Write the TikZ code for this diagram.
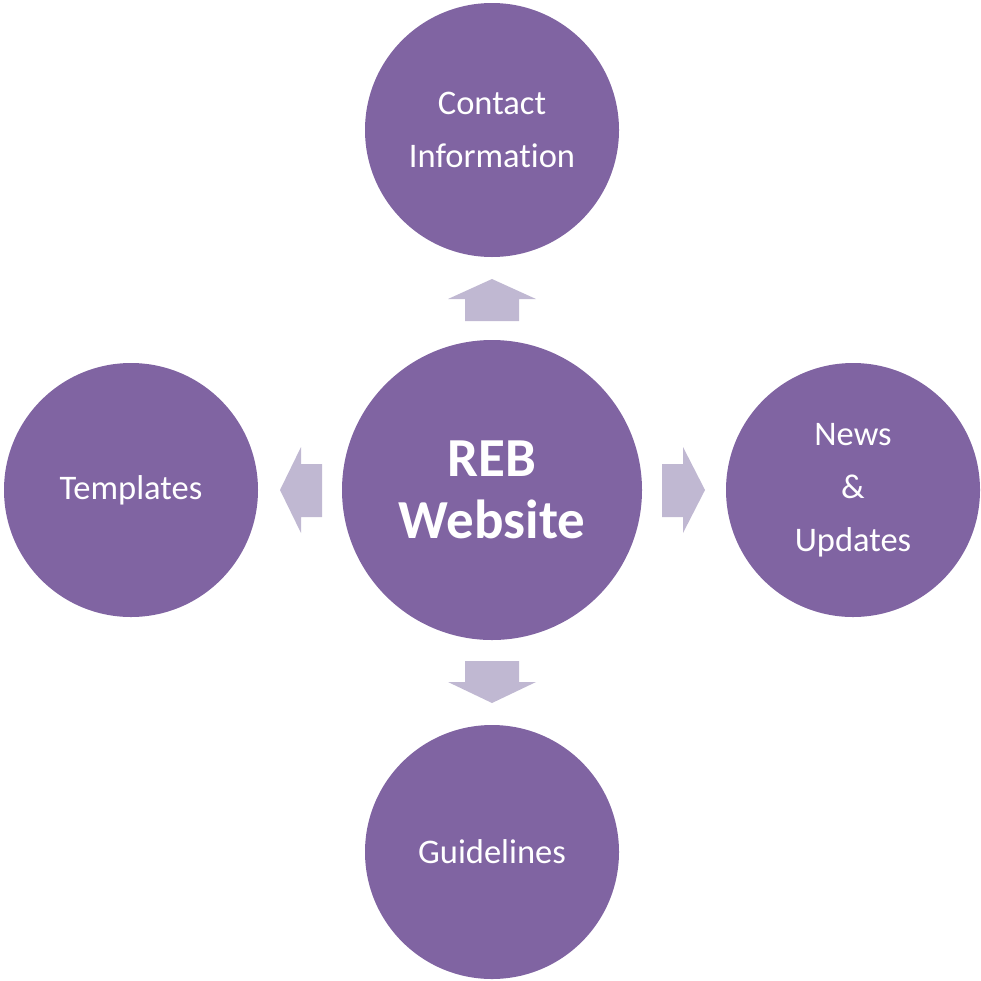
\documentclass[tikz,border=0pt]{standalone}
\usepackage{fontspec}
\setmainfont[Ligatures=NoCommon]{Carlito}
\usetikzlibrary{positioning}
\definecolor{hubpurple}{RGB}{128,100,162}
\definecolor{arrowlilac}{RGB}{192,184,210}
\tikzset{
    topic/.style={circle,fill=hubpurple,text=white,minimum size=254pt,inner sep=0pt,
        align=center,font=\fontsize{34.5}{53}\selectfont},
    hub/.style={topic,minimum size=300pt,font=\fontsize{55}{62}\selectfont\bfseries},
    blockarrow/.style={fill=arrowlilac},
}
\begin{document}
\begin{tikzpicture}[x=1pt,y=-1pt]
    \useasboundingbox (0,0) rectangle (981,980);
    \node[hub] (reb) at (492,490) {REB\\Website};
    \node[topic] (contact) at (492,130) {Contact\\Information};
    \node[topic] (templates) at (131,490) {Templates};
    \node[topic] (news) at (853,490) {News\\\&\\Updates};
    \node[topic] (guide) at (492,852) {Guidelines};
    % block arrows
    \fill[blockarrow] (465,321) -- (465,299) -- (448,299) -- (492,279)
        -- (536,299) -- (519,299) -- (519,321) -- cycle;
    \fill[blockarrow] (465,661) -- (465,682) -- (448,682) -- (492,703)
        -- (536,682) -- (519,682) -- (519,661) -- cycle;
    \fill[blockarrow] (322,464) -- (301,464) -- (301,447) -- (280,490)
        -- (301,533) -- (301,517) -- (322,517) -- cycle;
    \fill[blockarrow] (662,464) -- (683,464) -- (683,447) -- (705,490)
        -- (683,533) -- (683,517) -- (662,517) -- cycle;
\end{tikzpicture}
\end{document}
